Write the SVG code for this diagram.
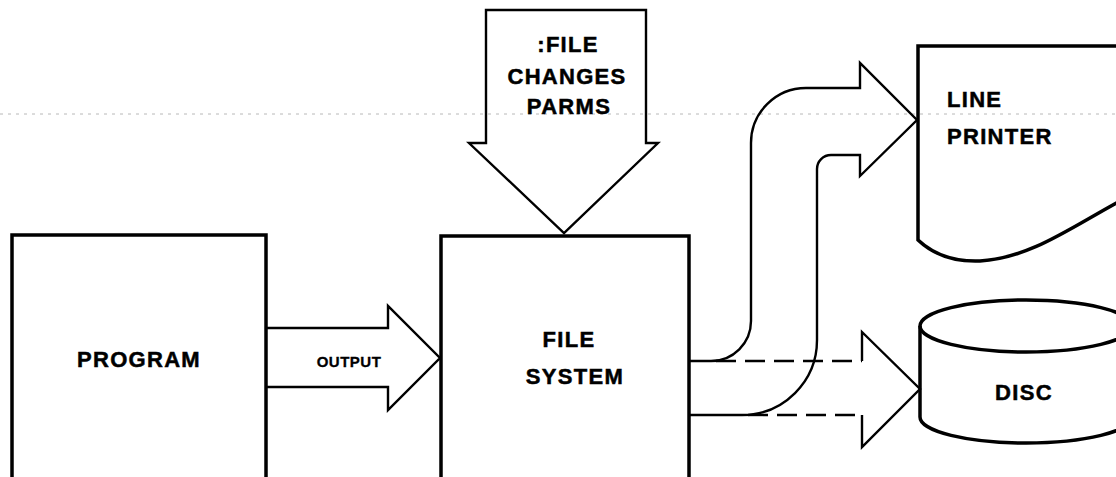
<svg xmlns="http://www.w3.org/2000/svg" width="1116" height="477" viewBox="0 0 1116 477">
<style>
.box{fill:none;stroke:#000;stroke-width:3.5;stroke-linejoin:miter}
.arr{fill:none;stroke:#000;stroke-width:2.4;stroke-linejoin:miter}
.dash{fill:none;stroke:#000;stroke-width:2.4;stroke-dasharray:20 9}
.lbl{font-family:"Liberation Sans",Arial,Helvetica,sans-serif;font-weight:bold;font-size:22px;fill:#000;stroke:#000;stroke-width:0.5;letter-spacing:1.3px}
.sm{font-size:15px;letter-spacing:0.5px;stroke-width:0.3}
</style>
<rect width="1116" height="477" fill="#fff"/>
<line x1="0" y1="114" x2="1116" y2="114" stroke="#b8b8b8" stroke-width="1" stroke-dasharray="3 5"/>
<g id="program">
<rect class="box" x="12" y="235" width="254" height="260"/>
<text class="lbl" x="139" y="367" text-anchor="middle">PROGRAM</text>
</g>
<g id="file-system">
<rect class="box" x="441" y="236" width="248" height="260"/>
<text class="lbl" x="569" y="347" text-anchor="middle">FILE</text>
<text class="lbl" x="575" y="384" text-anchor="middle">SYSTEM</text>
</g>
<g id="line-printer">
<path class="box" d="M1120,46 H918 V240 C935,256 955,262 980,261 C1030,258 1070,228 1120,201"/>
<text class="lbl" x="947" y="107">LINE</text>
<text class="lbl" x="947" y="144">PRINTER</text>
</g>
<g id="disc">
<ellipse class="box" cx="1026" cy="326" rx="106" ry="26"/>
<path class="box" d="M920,326 V417 A106,26 0 0 0 1132,417"/>
<text class="lbl" x="1024" y="400" text-anchor="middle">DISC</text>
</g>
<g id="connectors">
<g id="output-arrow">
<path class="arr" d="M266,328 H388 V306 L440,358 L388,410 V387 H266"/>
<text class="lbl sm" x="349" y="367" text-anchor="middle">OUTPUT</text>
</g>
<g id="file-changes-arrow">
<path class="arr" d="M486,10 H646 V143 H658 L564,233 L469,143 H486 Z"/>
<text class="lbl" x="568" y="52" text-anchor="middle">:FILE</text>
<text class="lbl" x="567" y="84" text-anchor="middle">CHANGES</text>
<text class="lbl" x="569" y="114" text-anchor="middle">PARMS</text>
</g>
<g id="printer-arrow">
<path class="arr" d="M689,361 H711 A40,40 0 0 0 751,321 V143 A55,55 0 0 1 806,88 H860 V63 L917,120 L860,176 V155 H831 A14,14 0 0 0 817,169 V340 A75,75 0 0 1 742,415 H689"/>
</g>
<g id="disc-arrow">
<path class="dash" d="M716,361 H862"/>
<path class="dash" d="M748,415 H862"/>
<path class="arr" d="M862,361 V332 L920,389 L862,447 V415"/>
</g>
</g>
</svg>
